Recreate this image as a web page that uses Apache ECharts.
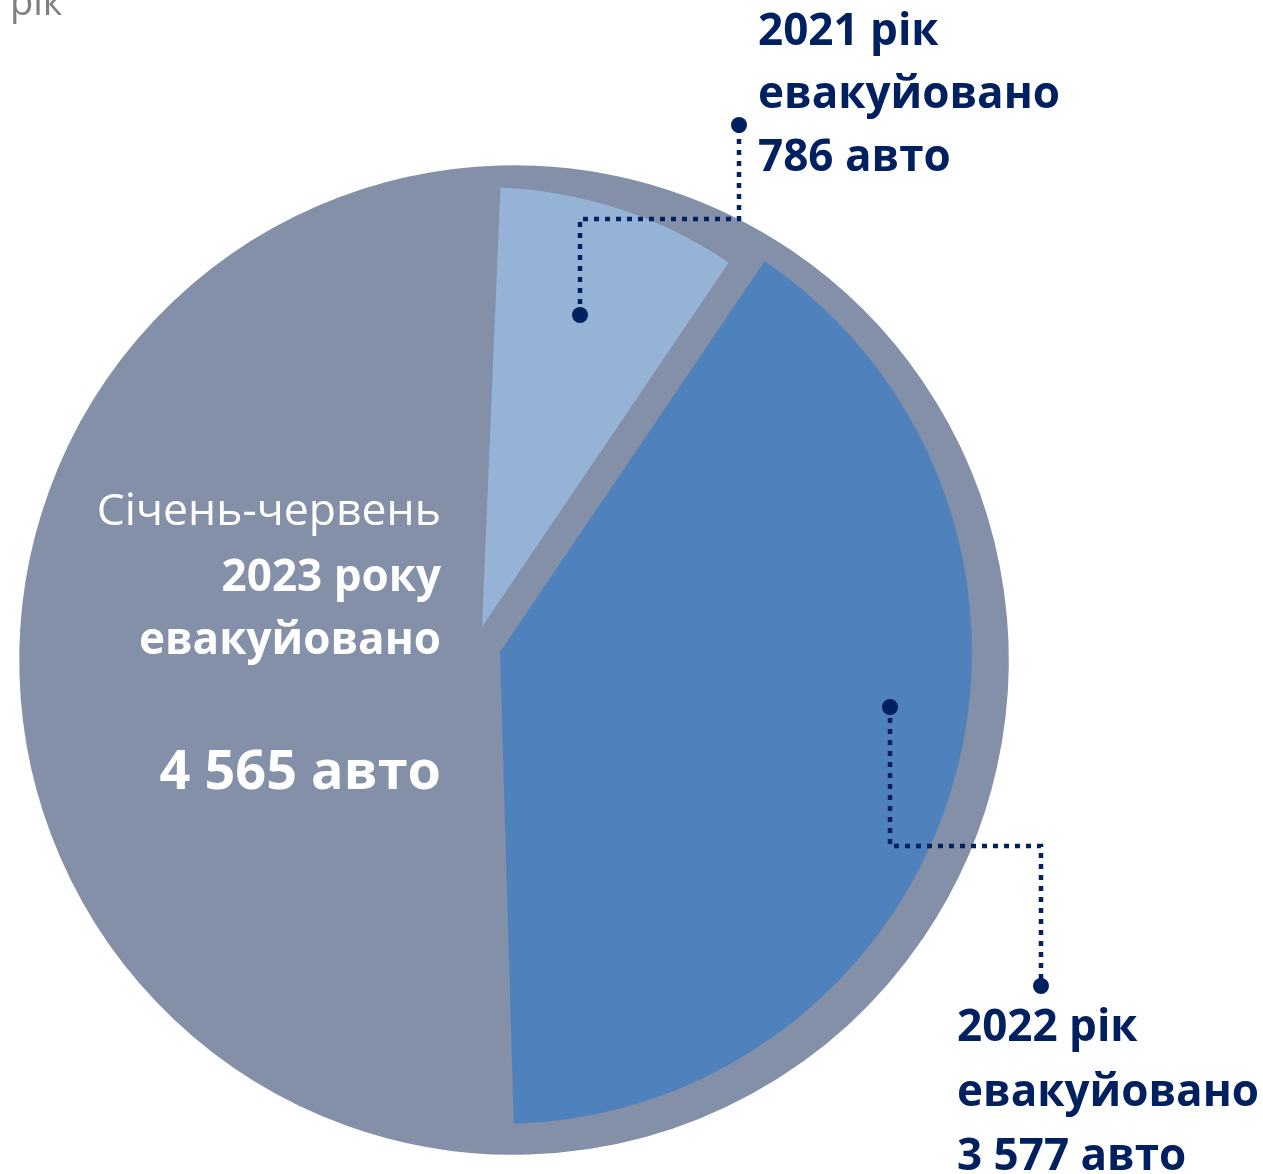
<!DOCTYPE html>
<html lang="uk">
<head>
    <meta charset="UTF-8">
    <title>Евакуйовано авто</title>
    <script src="https://cdn.jsdelivr.net/npm/echarts@6.0.0/dist/echarts.min.js"></script>
</head>
<body>
<div id="chart" style="width: 1263px;height: 1174px"></div>
<script>
// data
const years = ['2021', '2022', '2023']
const periodLines = [['2021 рік'], ['2022 рік'], ['Січень-червень', '2023 року']]
const evacuated = [786, 3577, 4565]
const unitWord = 'авто'
const verb = 'евакуйовано'

const grey = '#8390A8'
const sliceColors = ['#95B3D7', '#4F81BD', grey]
const navy = '#002060'
const startAngle = 87.6

function fmt(n) {
    return String(n).replace(/\B(?=(\d{3})+(?!\d))/g, ' ')
}

// one pie per coloured slice, everything else in it transparent
function slicePie(idx, center, radius) {
    return {
        type: 'pie',
        silent: true,
        center: center,
        radius: radius,
        startAngle: startAngle,
        label: { show: false },
        labelLine: { show: false },
        data: evacuated.map((v, i) => ({
            name: years[i],
            value: v,
            itemStyle: { color: i === idx ? sliceColors[i] : 'rgba(0,0,0,0)', borderWidth: 0 }
        }))
    }
}

function textEl(text, x, y, size, weight, color, align) {
    return {
        type: 'text', z: 100,
        style: {
            text: text, x: x, y: y,
            font: weight + ' ' + size + 'px "Open Sans"',
            fill: color,
            textAlign: align,
            textVerticalAlign: 'middle'
        }
    }
}

function leader(points) {
    const first = points[0], last = points[points.length - 1]
    return [
        {
            type: 'polyline', z: 100,
            shape: { points: points },
            style: { stroke: navy, lineWidth: 4.5, lineDash: [5, 6], fill: null }
        },
        { type: 'circle', z: 101, shape: { cx: first[0], cy: first[1], r: 8 }, style: { fill: navy } },
        { type: 'circle', z: 101, shape: { cx: last[0], cy: last[1], r: 8 }, style: { fill: navy } }
    ]
}

const graphic = [
    textEl('рік', 10, 4, 38, 'normal', '#7F7F7F', 'left'),
    // 2021
    textEl(periodLines[0][0], 758, 32, 44, 'bold', navy, 'left'),
    textEl(verb, 758, 95, 44, 'bold', navy, 'left'),
    textEl(fmt(evacuated[0]) + ' ' + unitWord, 758, 158, 44, 'bold', navy, 'left'),
    // 2022
    textEl(periodLines[1][0], 957, 1028, 44, 'bold', navy, 'left'),
    textEl(verb, 957, 1093, 44, 'bold', navy, 'left'),
    textEl(fmt(evacuated[1]) + ' ' + unitWord, 957, 1157, 44, 'bold', navy, 'left'),
    // 2023
    textEl(periodLines[2][0], 441, 512, 44.5, 'normal', '#ffffff', 'right'),
    textEl(periodLines[2][1], 441, 578, 44, 'bold', '#ffffff', 'right'),
    textEl(verb, 441, 641, 44, 'bold', '#ffffff', 'right'),
    textEl(fmt(evacuated[2]) + ' ' + unitWord, 441, 774, 54, 'bold', '#ffffff', 'right')
].concat(
    leader([[580, 315], [580, 219], [739, 219], [739, 125]]),
    leader([[890, 707], [890, 846], [1041, 846], [1041, 986]])
)

const myChart = echarts.init(document.getElementById('chart'))
myChart.setOption({
    animation: false,
    backgroundColor: '#ffffff',
    graphic: graphic,
    series: [
        {
            type: 'pie',
            silent: true,
            center: [514, 660],
            radius: 494,
            startAngle: startAngle,
            label: { show: false },
            labelLine: { show: false },
            data: evacuated.map((v, i) => ({
                name: years[i],
                value: v,
                itemStyle: { color: grey, borderColor: grey, borderWidth: 1.5 }
            }))
        },
        slicePie(0, [482, 627], 440),
        slicePie(1, [500, 652], 472)
    ]
})
</script>
<style>
    html, body {
        margin: 0;
        padding: 0;
        background: #ffffff;
    }
</style>
</body>
</html>
